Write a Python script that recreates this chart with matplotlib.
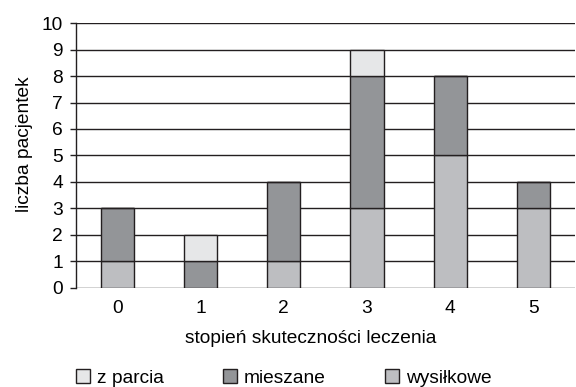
import matplotlib
matplotlib.use('Agg')
import matplotlib.pyplot as plt
from matplotlib.patches import Patch
import numpy as np

# dane: stopień skuteczności leczenia 0..5
stopnie = ['0', '1', '2', '3', '4', '5']
wysilkowe = [1, 0, 1, 3, 5, 3]
mieszane = [2, 1, 3, 5, 3, 1]
z_parcia = [0, 1, 0, 1, 0, 0]

plt.rcParams['font.family'] = ['Liberation Sans', 'DejaVu Sans']
plt.rcParams['font.size'] = 13.8

kol_wys = '#bdbec1'
kol_mie = '#939598'
kol_zp = '#e6e7e8'
kol_kraw = '#231f20'

fig, ax = plt.subplots(figsize=(5.76, 3.87), dpi=100)
fig.subplots_adjust(left=0.132, right=0.998, top=0.94, bottom=0.257)

x = np.arange(len(stopnie))
w = 0.4
dol2 = np.array(wysilkowe)
dol3 = dol2 + np.array(mieszane)
ax.bar(x, wysilkowe, w, color=kol_wys, edgecolor=kol_kraw, linewidth=1, zorder=3)
ax.bar(x, mieszane, w, bottom=dol2, color=kol_mie, edgecolor=kol_kraw, linewidth=1, zorder=3)
ax.bar(x, z_parcia, w, bottom=dol3, color=kol_zp, edgecolor=kol_kraw, linewidth=1, zorder=3)

ax.set_xlim(-0.5, 5.5)
ax.set_ylim(0, 10)
ax.set_yticks(range(0, 11))
ax.set_xticks(x)
ax.set_xticklabels(stopnie)
ax.yaxis.grid(True, color=kol_kraw, linewidth=1, zorder=0)
ax.set_axisbelow(True)
for s in ['top', 'right', 'bottom']:
    ax.spines[s].set_visible(False)
ax.spines['left'].set_color(kol_kraw)
ax.spines['left'].set_linewidth(1)
ax.tick_params(axis='y', length=4.5, width=1, color=kol_kraw, pad=5)
ax.tick_params(axis='x', length=0, pad=9)

ax.set_xlabel('stopień skuteczności leczenia', labelpad=9)
ax.set_ylabel('liczba pacjentek', labelpad=6)
ax.xaxis.label.set_x(0.471)
ax.yaxis.label.set_y(0.543)

uchwyty = [Patch(facecolor=kol_zp, edgecolor=kol_kraw, label='z parcia'),
           Patch(facecolor=kol_mie, edgecolor=kol_kraw, label='mieszane'),
           Patch(facecolor=kol_wys, edgecolor=kol_kraw, label='wysiłkowe')]
fig.legend(handles=uchwyty, loc='lower left', bbox_to_anchor=(0.132, 0.0), ncol=3,
           frameon=False, borderaxespad=0, borderpad=0,
           handlelength=0.73, handleheight=0.73, handletextpad=0.36,
           columnspacing=3.1)

fig.savefig('out.png', dpi=100)
